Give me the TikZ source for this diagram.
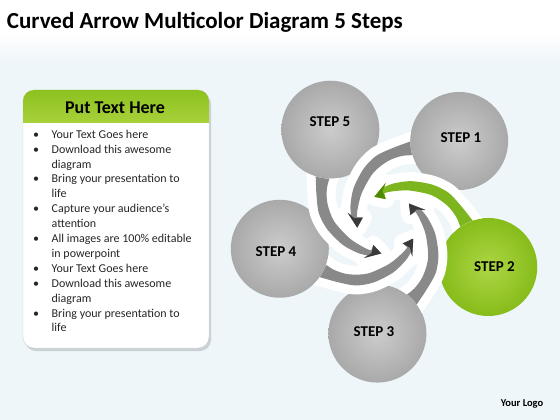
\documentclass[tikz,border=0pt]{standalone}
\usepackage{fontspec}
\setmainfont{Carlito}

\definecolor{bgblue}{HTML}{EEF6FA}
\definecolor{balllight}{HTML}{CCCCCC}
\definecolor{ballgrey}{HTML}{A9A9A9}
\definecolor{armgrey}{HTML}{898989}
\definecolor{tipgrey}{HTML}{3A3A3A}
\definecolor{limelight}{HTML}{ADD645}
\definecolor{limegreen}{HTML}{86BC1A}
\definecolor{armgreen}{HTML}{7DB51E}
\definecolor{tipgreen}{HTML}{4E8A00}
\definecolor{headtop}{HTML}{8CC21F}
\definecolor{headbot}{HTML}{A8D03A}

\tikzstyle{stepball} = [circle, minimum size=98pt, inner sep=0pt]
\tikzstyle{greyball} = [stepball, inner color=balllight, outer color=ballgrey]
\tikzstyle{greenball} = [stepball, inner color=limelight, outer color=limegreen]
\tikzstyle{steplabel} = [font=\fontsize{15}{18}\selectfont\bfseries]
\tikzstyle{gap} = [white, line width=18pt, line join=round]

\newcommand\swirlpath{plot[smooth] coordinates {(18:95) (28:83) (37:76) (50:69) (64:60) (84:49) (104:41) (117:37)}
  -- (115:41) -- (138:30) -- (116:25)
  -- plot[smooth] coordinates {(118:31) (104:33) (80:40) (56:53) (40:63) (28:70) (16:76) (8:82)} -- cycle}
\newcommand\swirltip{(115:41) -- (138:30) -- (116:25) -- (121:33) -- cycle}

\begin{document}
\begin{tikzpicture}[x=1pt, y=-1pt]
  \useasboundingbox (0,0) rectangle (560,420);
  \fill[white] (0,0) rectangle (560,420);
  \shade[top color=white, bottom color=bgblue] (0,34) rectangle (560,62);
  \fill[bgblue] (0,62) rectangle (560,420);

  \node (title) at (6.7,28.3) [anchor=base west, inner sep=0pt, font=\fontsize{23}{28}\selectfont\bfseries] {Curved Arrow Multicolor Diagram 5 Steps};

  \fill[rounded corners=11pt, black, opacity=0.15] (25,93) rectangle (211,351);
  \draw[rounded corners=11pt, fill=white, draw=gray!35] (23,90) rectangle (209,348);
  \begin{scope}
    \clip[rounded corners=11pt] (23,90) rectangle (209,348);
    \shade[top color=headtop, bottom color=headbot] (23,90) rectangle (209,122);
  \end{scope}
  \node (head) at (115,113.3) [anchor=base, inner sep=0pt, font=\fontsize{18}{21}\selectfont\bfseries] {Put Text Here};
  \node (list) at (33,138.3) [anchor=base west, inner sep=0pt, text=black!85, font=\fontsize{12}{14.9}\selectfont] {%
    \begin{tabular}[t]{@{}p{18.5pt}@{}l@{}}
      \textbullet & Your Text Goes here\\
      \textbullet & Download this awesome\\
                  & diagram\\
      \textbullet & Bring your presentation to\\
                  & life\\
      \textbullet & Capture your audience’s\\
                  & attention\\
      \textbullet & All images are 100\% editable\\
                  & in powerpoint\\
      \textbullet & Your Text Goes here\\
      \textbullet & Download this awesome\\
                  & diagram\\
      \textbullet & Bring your presentation to\\
                  & life
    \end{tabular}};

  \begin{scope}[shift={(387,224)}, x=1pt, y=1pt]
    \node (c1) at (49:110) [greyball] {};
    \node (c2) at (-23:110) [greenball] {};
    \node (c3) at (-95:110) [greyball] {};
    \node (c4) at (193:110) [greyball] {};
    \node (c5) at (121:110) [greyball] {};
    \foreach \ang/\bandcol/\tipcol in {49/armgrey/tipgrey, -23/armgreen/tipgreen, -95/armgrey/tipgrey, 193/armgrey/tipgrey, 121/armgrey/tipgrey} {
      \begin{scope}[rotate=\ang]
        \clip (-250,-250) -- (-250,250) -- (250,250) -- (250,-250) -- cycle (0:110) circle (49);
        \draw[gap] \swirlpath;
        \fill[\bandcol] \swirlpath;
        \fill[\tipcol] \swirltip;
      \end{scope}
    }
  \end{scope}

  \node (t1) at (461,137.5) [steplabel] {STEP 1};
  \node (t2) at (494.5,267) [steplabel] {STEP 2};
  \node (t3) at (374,332) [steplabel] {STEP 3};
  \node (t4) at (276,252) [steplabel] {STEP 4};
  \node (t5) at (330,122) [steplabel] {STEP 5};

  \node (logo) at (522,404) [font=\fontsize{10.5}{12}\selectfont\bfseries] {Your Logo};
\end{tikzpicture}
\end{document}
